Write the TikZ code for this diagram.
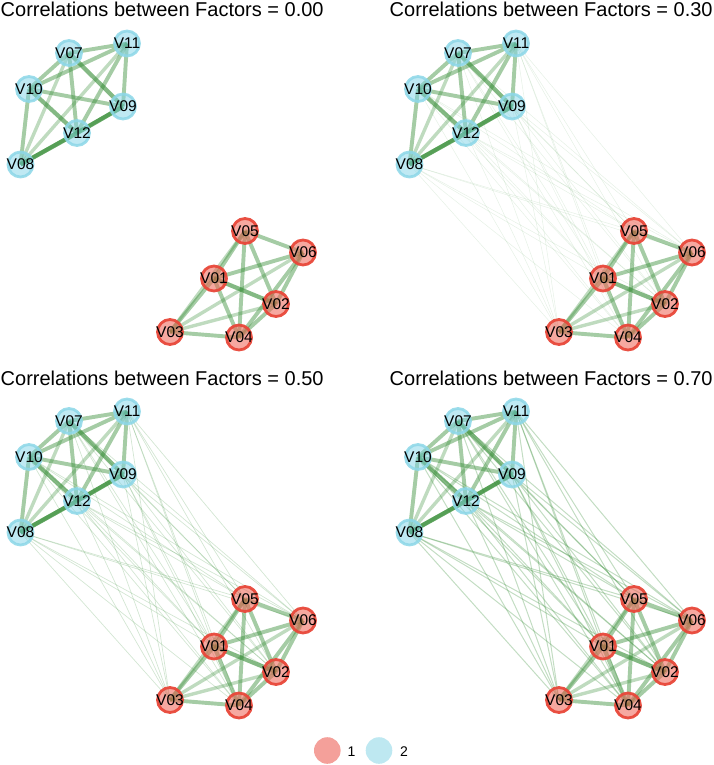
\documentclass[tikz,border=0pt]{standalone}
\usepackage{fontspec}
\setmainfont{Liberation Sans}
\usetikzlibrary{backgrounds}
\definecolor{edgegreen}{RGB}{56,142,56}
\definecolor{redring}{RGB}{232,72,58}
\definecolor{redfill}{RGB}{238,96,82}
\definecolor{bluering}{RGB}{140,215,232}
\definecolor{bluefill}{RGB}{128,211,231}
\definecolor{legred}{RGB}{244,160,154}
\definecolor{legblue}{RGB}{190,232,241}
\tikzset{
 vnode/.style={circle, inner sep=0pt, minimum size=25pt, line width=2.8pt},
 lbl/.style={inner sep=0pt, text opacity=1, font=\fontsize{15.5}{15.5}\selectfont},
 rednode/.style={vnode, draw=redring, draw opacity=0.95, fill=redfill, fill opacity=0.55},
 bluenode/.style={vnode, draw=bluering, draw opacity=0.85, fill=bluefill, fill opacity=0.5},
 ttl/.style={anchor=base west, inner sep=0pt, font=\fontsize{20}{20}\selectfont},
 eL/.style={draw=edgegreen, line width=3.4pt, draw opacity=0.32},
 eM/.style={draw=edgegreen, line width=3.9pt, draw opacity=0.45},
 eD/.style={draw=edgegreen, line width=4.2pt, draw opacity=0.62},
 eX/.style={draw=edgegreen, line width=4.4pt, draw opacity=0.78},
 bwA/.style={draw=edgegreen, line width=0.5pt, draw opacity=0.13},
 bwB/.style={draw=edgegreen, line width=0.7pt, draw opacity=0.22},
 bwC/.style={draw=edgegreen, line width=1.0pt, draw opacity=0.3},
 legtxt/.style={anchor=base west, inner sep=0pt, font=\fontsize{14}{14}\selectfont},
}
\newcommand\mypanel[4]{%
\begin{scope}[shift={(#2,#3)}]
\node[ttl] (#1T) at (0.5,17) {#4};
\node[bluenode,label={[lbl]center:V07}] (#1V07) at (69,53) {};
\node[bluenode,label={[lbl]center:V11}] (#1V11) at (127,43.5) {};
\node[bluenode,label={[lbl]center:V10}] (#1V10) at (29,89) {};
\node[bluenode,label={[lbl]center:V09}] (#1V09) at (123,106.5) {};
\node[bluenode,label={[lbl]center:V12}] (#1V12) at (77,133) {};
\node[bluenode,label={[lbl]center:V08}] (#1V08) at (20.5,164.5) {};
\node[rednode,label={[lbl]center:V05}] (#1V05) at (245,231) {};
\node[rednode,label={[lbl]center:V06}] (#1V06) at (303,252.5) {};
\node[rednode,label={[lbl]center:V01}] (#1V01) at (214,278.5) {};
\node[rednode,label={[lbl]center:V02}] (#1V02) at (276,304) {};
\node[rednode,label={[lbl]center:V03}] (#1V03) at (170,332) {};
\node[rednode,label={[lbl]center:V04}] (#1V04) at (239,337.5) {};
\end{scope}}
\newcommand\mywithin[1]{%
\begin{pgfonlayer}{background}
\foreach \a/\b/\s in {V07/V08/eL,V11/V08/eL,V09/V08/eL,V07/V11/eM,V07/V10/eM,V07/V12/eM,V11/V10/eM,V11/V09/eM,V11/V12/eM,V10/V09/eM,V10/V08/eM,V07/V09/eD,V10/V12/eD,V09/V12/eX,V12/V08/eX,
 V05/V03/eL,V06/V03/eL,V02/V03/eL,V05/V06/eM,V05/V01/eM,V05/V02/eM,V05/V04/eM,V06/V01/eM,V06/V02/eM,V06/V04/eM,V01/V04/eM,V01/V03/eM,V02/V04/eM,V03/V04/eM,V01/V02/eD}
 \draw[\s] (#1\a.center) -- (#1\b.center);
\end{pgfonlayer}}
\newcommand\mybetween[2]{%
\begin{pgfonlayer}{background}
\foreach \a in {V07,V08,V09,V10,V11,V12}
 \foreach \b in {V01,V02,V03,V04,V05,V06}
  \draw[#2] (#1\a.center) -- (#1\b.center);
\end{pgfonlayer}}
\pgfdeclarelayer{background}
\pgfsetlayers{background,main}
\begin{document}
\begin{tikzpicture}[x=1pt,y=-1pt]
\useasboundingbox (0,0) rectangle (713,765);
\mypanel{a}{0}{0}{Correlations between Factors = 0.00}
\mypanel{b}{389}{0}{Correlations between Factors = 0.30}
\mypanel{c}{0}{368}{Correlations between Factors = 0.50}
\mypanel{d}{389}{368}{Correlations between Factors = 0.70}
\mybetween{b}{bwA}
\mybetween{c}{bwB}
\mybetween{d}{bwC}
\mywithin{a}
\mywithin{b}
\mywithin{c}
\mywithin{d}
\node[circle, fill=legred, minimum size=26.6pt, inner sep=0pt] (legA) at (327.3,750.5) {};
\node[legtxt] (legAt) at (347.5,756) {1};
\node[circle, fill=legblue, minimum size=26.6pt, inner sep=0pt] (legB) at (379,750.5) {};
\node[legtxt] (legBt) at (400,756) {2};
\end{tikzpicture}
\end{document}
